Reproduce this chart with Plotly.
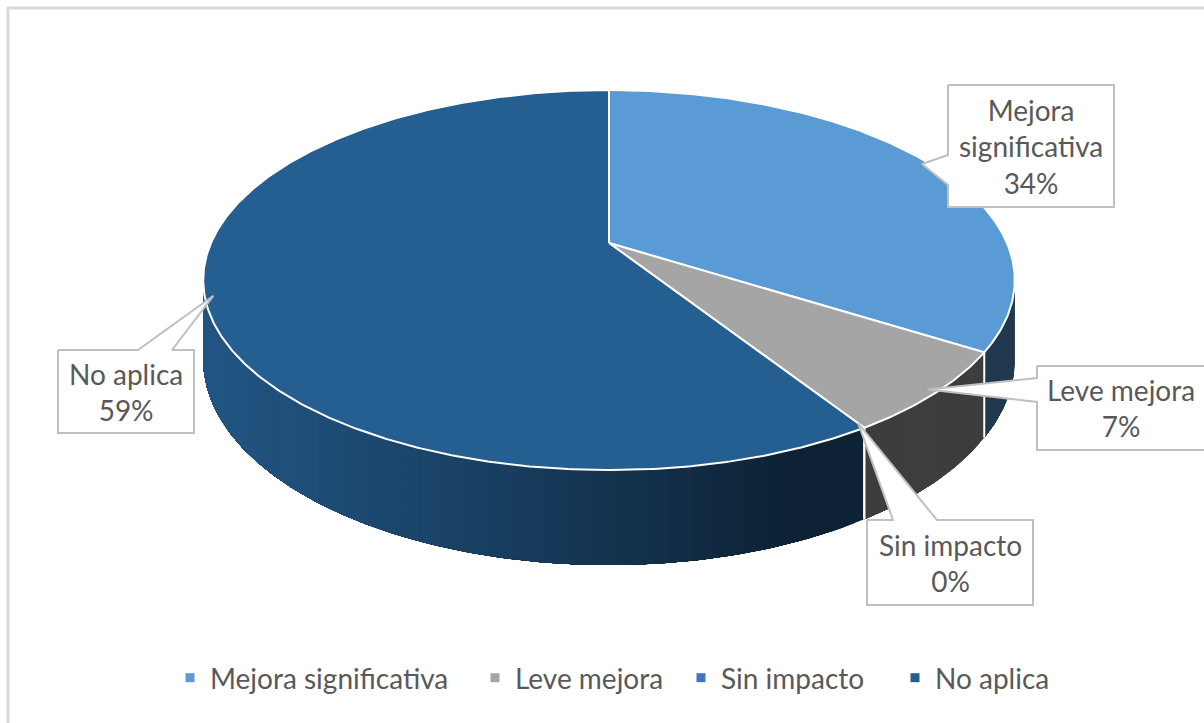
import numpy as np
import plotly.graph_objects as go

# ---- data ----
categories = ["Mejora significativa", "Leve mejora", "Sin impacto", "No aplica"]
values = [34, 7, 0, 59]
label_text = ["Mejora<br>significativa", "Leve mejora", "Sin impacto", "No aplica"]

# ---- style ----
top_colors = ["#5B9BD5", "#A5A5A5", "#4472C4", "#255E91"]
TEXT_COLOR = "#595959"
FONT = "Lato"
FONT_SIZE = 28
W, H_FIG = 1204, 723

# ---- 3D pie geometry (perspective disc seen from above) ----
CX, CY = 609.0, 243.0      # projected centre of the top face
RAD = 398.0                # horizontal radius
DEPTH = 182.8              # vertical radius scale
K = 0.195                  # perspective strength
THICK = 76.5               # disc thickness


def project(theta_deg, r=1.0, drop=0.0):
    t = np.radians(theta_deg)
    s = r * np.sin(t)
    d = r * np.cos(t)
    w = 1 + K * d
    return CX + RAD * s / w, CY - DEPTH * d / w + drop / w


def hex_rgb(h):
    h = h.lstrip("#")
    return tuple(int(h[i:i + 2], 16) for i in (0, 2, 4))


def shade(h, theta_deg):
    # ambient + diffuse light coming from the left-front
    f = 0.37 + 0.53 * max(0.0, np.cos(np.radians(theta_deg - 250)))
    r, g, b = hex_rgb(h)
    return "rgb(%d,%d,%d)" % (r * f, g * f, b * f)


total = float(sum(values))
bounds = np.concatenate([[0], np.cumsum(values)]) / total * 360.0
vis_lo = np.degrees(np.arccos(-K))          # silhouette on the right
vis_hi = 360.0 - vis_lo                     # silhouette on the left

fig = go.Figure()

# side walls: each strip runs to the end of its slice and the next one is
# painted over it, so the shading changes along the rim without gaps
for i, c in enumerate(categories):
    a0, a1 = max(bounds[i], vis_lo), min(bounds[i + 1], vis_hi)
    if a1 <= a0:
        continue
    n = max(2, int((a1 - a0) / 1.5))
    edges = np.linspace(a0, a1, n + 1)
    for j in range(n):
        ts = np.linspace(edges[j], a1, max(3, int((a1 - edges[j]) * 2)))
        xt, yt = project(ts)
        xb, yb = project(ts[::-1], drop=THICK)
        col = shade(top_colors[i], 0.5 * (edges[j] + edges[j + 1]))
        fig.add_trace(go.Scatter(
            x=np.concatenate([xt, xb]), y=np.concatenate([yt, yb]),
            mode="lines", fill="toself", fillcolor=col,
            line=dict(color=col, width=0), hoverinfo="skip", showlegend=False))

# white seams on the wall where slices meet
for b in bounds[1:-1]:
    if vis_lo < b < vis_hi:
        x0, y0 = project(b)
        x1, y1 = project(b, drop=THICK)
        fig.add_trace(go.Scatter(x=[x0, x1], y=[y0, y1], mode="lines",
                                 line=dict(color="white", width=2),
                                 hoverinfo="skip", showlegend=False))

# top faces
for i, c in enumerate(categories):
    a0, a1 = bounds[i], bounds[i + 1]
    if a1 - a0 <= 0:
        continue
    ts = np.linspace(a0, a1, max(3, int((a1 - a0) * 2)))
    xa, ya = project(ts)
    fig.add_trace(go.Scatter(
        x=np.concatenate([[CX], xa, [CX]]), y=np.concatenate([[CY], ya, [CY]]),
        mode="lines", fill="toself", fillcolor=top_colors[i],
        line=dict(color="white", width=2), name=c,
        hovertemplate=f"{c}: {values[i] / total:.0%}<extra></extra>",
        showlegend=False))

# ---- callout labels ----
callouts = {
    "Mejora significativa": dict(box=(948, 85, 1114, 207), side="left", attach=(155, 185)),
    "Leve mejora": dict(box=(1037, 366, 1216, 450), side="left", attach=(378, 402)),
    "Sin impacto": dict(box=(867, 520, 1033, 605), side="top", attach=(893, 937)),
    "No aplica": dict(box=(58, 350, 194, 433), side="top", attach=(138, 172)),
}

for i, c in enumerate(categories):
    spec = callouts[c]
    x0, y0, x1, y1 = spec["box"]
    mid = 0.5 * (bounds[i] + bounds[i + 1])
    tx, ty = project(mid, r=0.98)
    a1, a2 = spec["attach"]
    if spec["side"] == "left":
        px = [x0, x1, x1, x0, x0, tx, x0, x0]
        py = [y0, y0, y1, y1, a2, ty, a1, y0]
    else:
        px = [x0, a1, tx, a2, x1, x1, x0, x0]
        py = [y0, y0, ty, y0, y0, y1, y1, y0]
    fig.add_trace(go.Scatter(x=px, y=py, mode="lines", fill="toself",
                             fillcolor="white", line=dict(color="#BFBFBF", width=2),
                             hoverinfo="skip", showlegend=False))
    cx_text = 0.5 * (x0 + x1) if x1 <= W else 0.5 * (x0 + x1) - 6
    fig.add_annotation(x=cx_text, y=0.5 * (y0 + y1), xref="x", yref="y",
                       text=f"{label_text[i]}<br>{values[i] / total:.0%}",
                       showarrow=False,
                       font=dict(family=FONT, size=FONT_SIZE, color=TEXT_COLOR),
                       align="center")

# legend: one single-entry legend per category, laid out along the bottom
legend_symbol_x = [192, 497, 703, 917]
legend_layout = {}
for i, c in enumerate(categories):
    key = "legend" if i == 0 else f"legend{i + 1}"
    fig.add_trace(go.Scatter(x=[None], y=[None], mode="markers", name=c,
                             legend=key,
                             marker=dict(symbol="square", size=9, color=top_colors[i])))
    legend_layout[key] = dict(
        x=(legend_symbol_x[i] - 22) / W, xanchor="left",
        y=1 - 678 / H_FIG, yanchor="middle",
        font=dict(family=FONT, size=FONT_SIZE, color=TEXT_COLOR),
        bgcolor="rgba(0,0,0,0)", itemclick=False, itemdoubleclick=False)

# chart-area frame
fig.add_shape(type="rect", xref="x", yref="y", x0=8, y0=8, x1=1220, y1=740,
              line=dict(color="#D9D9D9", width=3), fillcolor="rgba(0,0,0,0)", layer="above")

fig.update_layout(
    width=W, height=H_FIG,
    margin=dict(l=0, r=0, t=0, b=0),
    paper_bgcolor="white", plot_bgcolor="white",
    xaxis=dict(range=[0, W], visible=False, fixedrange=True),
    yaxis=dict(range=[H_FIG, 0], visible=False, fixedrange=True),
    showlegend=True,
    font=dict(family=FONT),
    **legend_layout,
)

fig.write_html("out.html")
